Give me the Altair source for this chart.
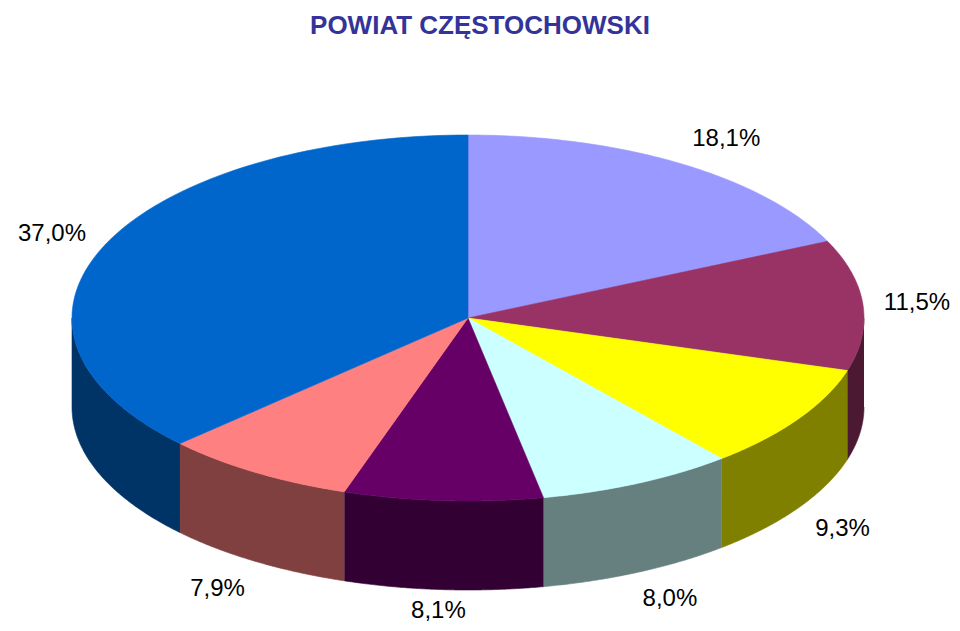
import altair as alt
import numpy as np
import pandas as pd

# ---- data ----
labels = ["18,1%", "11,5%", "9,3%", "8,0%", "8,1%", "7,9%", "37,0%"]
values = [18.1, 11.5, 9.3, 8.0, 8.1, 7.9, 37.0]
top_colors = ["#9999FF", "#993366", "#FFFF00", "#CCFFFF", "#660066", "#FF8080", "#0066CC"]
side_colors = ["#4D4D80", "#4C1933", "#808000", "#668080", "#330033", "#804040", "#003366"]
title_text = "POWIAT CZĘSTOCHOWSKI"

# ---- geometry (unit ellipse, derived from values) ----
PX = 396.0            # pixels per unit radius
RY = 183.0            # vertical radius in pixels
DP = 89.0             # thickness in pixels
TILT = RY / PX
DEPTH = DP / PX
N = 90

vals = np.array(values)
fr = vals / vals.sum()
ends = np.cumsum(fr) * 2 * np.pi
starts = ends - fr * 2 * np.pi

rows = []
pid = 0
# side faces (front half only)
for i in range(len(values)):
    a0 = max(starts[i], np.pi / 2)
    a1 = min(ends[i], 3 * np.pi / 2)
    if a1 <= a0:
        continue
    t = np.linspace(a0, a1, N)
    xs_ = np.sin(t)
    ys_ = np.cos(t) * TILT
    px = np.concatenate([xs_, xs_[::-1]])
    py = np.concatenate([ys_, ys_[::-1] - DEPTH])
    for k, (x, y) in enumerate(zip(px, py)):
        rows.append(dict(pid=pid, k=k, x=x, y=y, c=side_colors[i]))
    pid += 1
# top faces
for i in range(len(values)):
    t = np.linspace(starts[i], ends[i], N)
    px = np.concatenate([[0.0], np.sin(t), [0.0]])
    py = np.concatenate([[0.0], np.cos(t) * TILT, [0.0]])
    for k, (x, y) in enumerate(zip(px, py)):
        rows.append(dict(pid=pid, k=k, x=x, y=y, c=top_colors[i]))
    pid += 1
poly = pd.DataFrame(rows)

# ---- label positions: outside the rim, offset by half the text box ----
FS = 24
cw = {c: 0.556 for c in "0123456789"}
cw.update({",": 0.278, "%": 0.889})
half_w = np.array([0.5 * FS * sum(cw[c] for c in s) for s in labels])
mid = (starts + ends) / 2
s, c = np.sin(mid), np.cos(mid)
GAP_X = 20.0
lx_px = (PX + GAP_X) * s + half_w * np.clip(2 * s, -1, 1)
vgap = np.where(c >= 0, 30.0, 20.0 + 23.0 * np.abs(s))
ly_px = (RY + vgap) * c - np.where(c < 0, DP, 0.0)
lab = pd.DataFrame(dict(label=labels, x=lx_px / PX, y=ly_px / PX))

# ---- scales ----
W, H = 944, 574
TOP = 41             # space for the title
Y0 = 8 + TOP         # page y of plot top
CX, CY = 468, 318    # page position of the pie centre
xdom = [-(CX - 8) / PX, (8 + W - CX) / PX]
ydom = [-(Y0 + H - CY) / PX, (CY - Y0) / PX]
xs = alt.Scale(domain=xdom, nice=False, zero=False)
ys = alt.Scale(domain=ydom, nice=False, zero=False)

shapes = alt.Chart(poly).mark_line(filled=True, strokeWidth=0.6, interpolate="linear").encode(
    x=alt.X("x:Q", scale=xs, axis=None),
    y=alt.Y("y:Q", scale=ys, axis=None),
    detail="pid:N",
    order="k:Q",
    fill=alt.Fill("c:N", scale=None),
    stroke=alt.Stroke("c:N", scale=None),
)

texts = alt.Chart(lab).mark_text(
    font="Liberation Sans", fontSize=FS, color="black", align="center", baseline="middle"
).encode(
    x=alt.X("x:Q", scale=xs, axis=None),
    y=alt.Y("y:Q", scale=ys, axis=None),
    text="label:N",
)

chart = alt.layer(shapes, texts).properties(
    width=W, height=H,
    autosize=alt.AutoSizeParams(type="none"),
    padding={"top": TOP, "left": 0, "right": 0, "bottom": 0},
    title=alt.TitleParams(title_text, font="Liberation Sans", fontSize=26, fontWeight="bold",
                          color="#333399", anchor="middle", offset=10),
).configure_view(strokeWidth=0)

chart.save("out.html", embed_options={"renderer": "svg", "actions": False})
